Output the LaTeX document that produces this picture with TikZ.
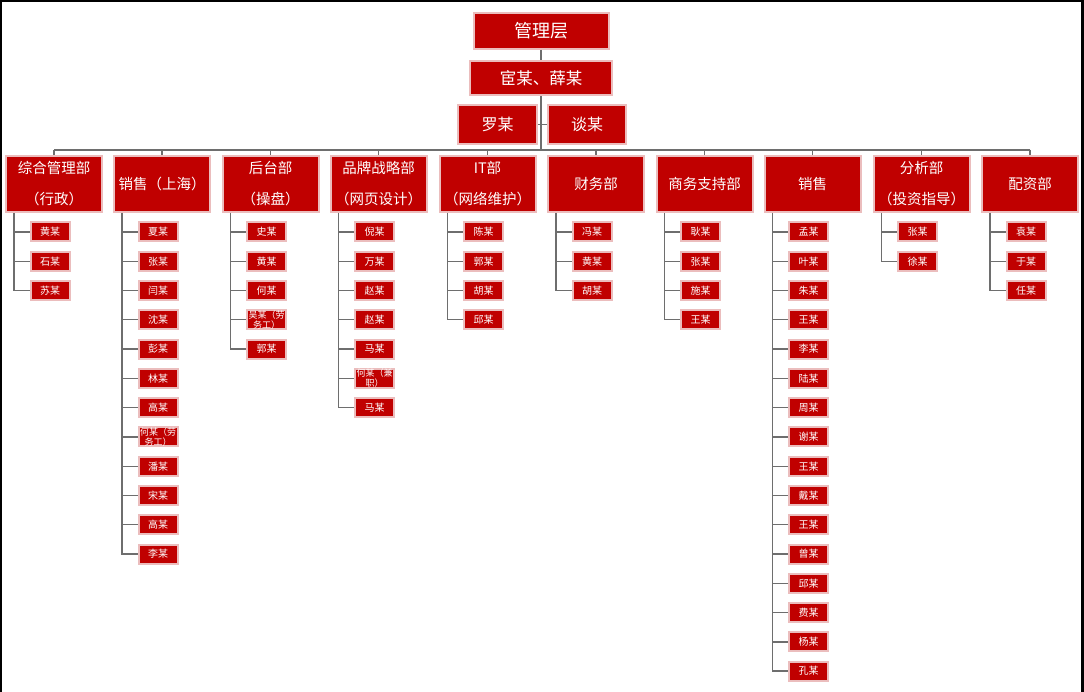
\documentclass[tikz,border=0pt]{standalone}
\usepackage{fontspec}
\setmainfont{Noto Sans CJK SC}
\usetikzlibrary{positioning}
\definecolor{boxred}{HTML}{C00000}
\definecolor{halo}{HTML}{EBBDBD}
\definecolor{wire}{HTML}{6E6E6E}

\begin{document}
\begin{tikzpicture}[x=1pt, y=-1pt,
  every node/.style={text=white, inner sep=0pt},
  head/.style={fill=boxred, draw=halo, line width=2pt, align=center},
  dept/.style={head, minimum width=96pt, minimum height=56pt,
               font=\fontsize{14.5}{31}\selectfont},
  staff/.style={head, minimum width=39pt, minimum height=19pt,
                font=\fontsize{10}{12}\selectfont},
  tight/.style={font=\fontsize{9}{10}\selectfont},
  link/.style={draw=wire, line width=1.4pt}
]
  % frame and page
  \fill[black] (0,0) rectangle (1084,692);
  \fill[white] (2,2) rectangle (1081,692);
  \useasboundingbox (0,0) rectangle (1084,692);

  % management
  \node[head, minimum width=135pt, minimum height=36pt, font=\fontsize{18}{20}\selectfont] (mg) at (541,31) {管理层};
  \node[head, minimum width=142pt, minimum height=34pt, font=\fontsize{16.5}{20}\selectfont] (vp) at (541,78) {宦某、薛某};
  \node[head, minimum width=79pt, minimum height=39pt, font=\fontsize{16}{20}\selectfont] (a1) at (497.5,124.5) {罗某};
  \node[head, minimum width=78pt, minimum height=39pt, font=\fontsize{16}{20}\selectfont] (a2) at (587,124.5) {谈某};
  \coordinate (hub) at (541,150);

  % departments
  \node[dept] (d1) at (54,184) {综合管理部\\（行政）};
  \node[dept] (d2) at (162,184) {销售（上海）};
  \node[dept] (d3) at (270.5,184) {后台部\\（操盘）};
  \node[dept] (d4) at (378.5,184) {品牌战略部\\（网页设计）};
  \node[dept] (d5) at (487.5,184) {IT部\\（网络维护）};
  \node[dept] (d6) at (596,184) {财务部};
  \node[dept] (d7) at (704.5,184) {商务支持部};
  \node[dept] (d8) at (812.5,184) {销售};
  \node[dept] (d9) at (921.5,184) {分析部\\（投资指导）};
  \node[dept] (d10) at (1030,184) {配资部};

  % 综合管理部
  \node[staff] (n1-1) at (50,232) {黄某};
  \node[staff] (n1-2) at (50,261.3) {石某};
  \node[staff] (n1-3) at (50,290.5) {苏某};

  % 销售（上海）
  \node[staff] (n2-1) at (158,232) {夏某};
  \node[staff] (n2-2) at (158,261.3) {张某};
  \node[staff] (n2-3) at (158,290.5) {闫某};
  \node[staff] (n2-4) at (158,319.8) {沈某};
  \node[staff] (n2-5) at (158,349.1) {彭某};
  \node[staff] (n2-6) at (158,378.4) {林某};
  \node[staff] (n2-7) at (158,407.6) {高某};
  \node[staff, tight] (n2-8) at (158,436.9) {何某（劳\\务工）};
  \node[staff] (n2-9) at (158,466.2) {潘某};
  \node[staff] (n2-10) at (158,495.4) {宋某};
  \node[staff] (n2-11) at (158,524.7) {高某};
  \node[staff] (n2-12) at (158,554) {李某};

  % 后台部
  \node[staff] (n3-1) at (266.5,232) {史某};
  \node[staff] (n3-2) at (266.5,261.3) {黄某};
  \node[staff] (n3-3) at (266.5,290.5) {何某};
  \node[staff, tight] (n3-4) at (266.5,319.8) {吴某（劳\\务工）};
  \node[staff] (n3-5) at (266.5,349.1) {郭某};

  % 品牌战略部
  \node[staff] (n4-1) at (374.5,232) {倪某};
  \node[staff] (n4-2) at (374.5,261.3) {万某};
  \node[staff] (n4-3) at (374.5,290.5) {赵某};
  \node[staff] (n4-4) at (374.5,319.8) {赵某};
  \node[staff] (n4-5) at (374.5,349.1) {马某};
  \node[staff, tight] (n4-6) at (374.5,378.4) {何某（兼\\职）};
  \node[staff] (n4-7) at (374.5,407.6) {马某};

  % IT部
  \node[staff] (n5-1) at (483.5,232) {陈某};
  \node[staff] (n5-2) at (483.5,261.3) {郭某};
  \node[staff] (n5-3) at (483.5,290.5) {胡某};
  \node[staff] (n5-4) at (483.5,319.8) {邱某};

  % 财务部
  \node[staff] (n6-1) at (592,232) {冯某};
  \node[staff] (n6-2) at (592,261.3) {黄某};
  \node[staff] (n6-3) at (592,290.5) {胡某};

  % 商务支持部
  \node[staff] (n7-1) at (700.5,232) {耿某};
  \node[staff] (n7-2) at (700.5,261.3) {张某};
  \node[staff] (n7-3) at (700.5,290.5) {施某};
  \node[staff] (n7-4) at (700.5,319.8) {王某};

  % 销售
  \node[staff] (n8-1) at (808.5,232) {孟某};
  \node[staff] (n8-2) at (808.5,261.3) {叶某};
  \node[staff] (n8-3) at (808.5,290.5) {朱某};
  \node[staff] (n8-4) at (808.5,319.8) {王某};
  \node[staff] (n8-5) at (808.5,349.1) {李某};
  \node[staff] (n8-6) at (808.5,378.4) {陆某};
  \node[staff] (n8-7) at (808.5,407.6) {周某};
  \node[staff] (n8-8) at (808.5,436.9) {谢某};
  \node[staff] (n8-9) at (808.5,466.2) {王某};
  \node[staff] (n8-10) at (808.5,495.4) {戴某};
  \node[staff] (n8-11) at (808.5,524.7) {王某};
  \node[staff] (n8-12) at (808.5,554) {曾某};
  \node[staff] (n8-13) at (808.5,583.2) {邱某};
  \node[staff] (n8-14) at (808.5,612.5) {费某};
  \node[staff] (n8-15) at (808.5,641.8) {杨某};
  \node[staff] (n8-16) at (808.5,671) {孔某};

  % 分析部
  \node[staff] (n9-1) at (917.5,232) {张某};
  \node[staff] (n9-2) at (917.5,261.3) {徐某};

  % 配资部
  \node[staff] (n10-1) at (1026,232) {袁某};
  \node[staff] (n10-2) at (1026,261.3) {于某};
  \node[staff] (n10-3) at (1026,290.5) {任某};

  % connectors at the top
  \draw[link] (mg.south) -- (vp.north);
  \draw[link] (vp.south) -- (hub);
  \draw[link] (a1.east) -- (a1.east -| hub);
  \draw[link] (a2.west) -- (a2.west -| hub);
  \draw[link] (d1.north |- hub) -- (d10.north |- hub);
  \draw[link] (hub -| d1.north) -- (d1.north) (hub -| d2.north) -- (d2.north)
              (hub -| d3.north) -- (d3.north) (hub -| d4.north) -- (d4.north)
              (hub -| d5.north) -- (d5.north) (hub -| d6.north) -- (d6.north)
              (hub -| d7.north) -- (d7.north) (hub -| d8.north) -- (d8.north)
              (hub -| d9.north) -- (d9.north) (hub -| d10.north) -- (d10.north);

  % connectors to staff
  \draw[link] ([xshift=9pt]d1.south west) |- (n1-1.west) ([xshift=9pt]d1.south west) |- (n1-2.west)
              ([xshift=9pt]d1.south west) |- (n1-3.west);
  \draw[link] ([xshift=9pt]d2.south west) |- (n2-1.west) ([xshift=9pt]d2.south west) |- (n2-2.west)
              ([xshift=9pt]d2.south west) |- (n2-3.west) ([xshift=9pt]d2.south west) |- (n2-4.west)
              ([xshift=9pt]d2.south west) |- (n2-5.west) ([xshift=9pt]d2.south west) |- (n2-6.west)
              ([xshift=9pt]d2.south west) |- (n2-7.west) ([xshift=9pt]d2.south west) |- (n2-8.west)
              ([xshift=9pt]d2.south west) |- (n2-9.west) ([xshift=9pt]d2.south west) |- (n2-10.west)
              ([xshift=9pt]d2.south west) |- (n2-11.west) ([xshift=9pt]d2.south west) |- (n2-12.west);
  \draw[link] ([xshift=9pt]d3.south west) |- (n3-1.west) ([xshift=9pt]d3.south west) |- (n3-2.west)
              ([xshift=9pt]d3.south west) |- (n3-3.west) ([xshift=9pt]d3.south west) |- (n3-4.west)
              ([xshift=9pt]d3.south west) |- (n3-5.west);
  \draw[link] ([xshift=9pt]d4.south west) |- (n4-1.west) ([xshift=9pt]d4.south west) |- (n4-2.west)
              ([xshift=9pt]d4.south west) |- (n4-3.west) ([xshift=9pt]d4.south west) |- (n4-4.west)
              ([xshift=9pt]d4.south west) |- (n4-5.west) ([xshift=9pt]d4.south west) |- (n4-6.west)
              ([xshift=9pt]d4.south west) |- (n4-7.west);
  \draw[link] ([xshift=9pt]d5.south west) |- (n5-1.west) ([xshift=9pt]d5.south west) |- (n5-2.west)
              ([xshift=9pt]d5.south west) |- (n5-3.west) ([xshift=9pt]d5.south west) |- (n5-4.west);
  \draw[link] ([xshift=9pt]d6.south west) |- (n6-1.west) ([xshift=9pt]d6.south west) |- (n6-2.west)
              ([xshift=9pt]d6.south west) |- (n6-3.west);
  \draw[link] ([xshift=9pt]d7.south west) |- (n7-1.west) ([xshift=9pt]d7.south west) |- (n7-2.west)
              ([xshift=9pt]d7.south west) |- (n7-3.west) ([xshift=9pt]d7.south west) |- (n7-4.west);
  \draw[link] ([xshift=9pt]d8.south west) |- (n8-1.west) ([xshift=9pt]d8.south west) |- (n8-2.west)
              ([xshift=9pt]d8.south west) |- (n8-3.west) ([xshift=9pt]d8.south west) |- (n8-4.west)
              ([xshift=9pt]d8.south west) |- (n8-5.west) ([xshift=9pt]d8.south west) |- (n8-6.west)
              ([xshift=9pt]d8.south west) |- (n8-7.west) ([xshift=9pt]d8.south west) |- (n8-8.west)
              ([xshift=9pt]d8.south west) |- (n8-9.west) ([xshift=9pt]d8.south west) |- (n8-10.west)
              ([xshift=9pt]d8.south west) |- (n8-11.west) ([xshift=9pt]d8.south west) |- (n8-12.west)
              ([xshift=9pt]d8.south west) |- (n8-13.west) ([xshift=9pt]d8.south west) |- (n8-14.west)
              ([xshift=9pt]d8.south west) |- (n8-15.west) ([xshift=9pt]d8.south west) |- (n8-16.west);
  \draw[link] ([xshift=9pt]d9.south west) |- (n9-1.west) ([xshift=9pt]d9.south west) |- (n9-2.west);
  \draw[link] ([xshift=9pt]d10.south west) |- (n10-1.west) ([xshift=9pt]d10.south west) |- (n10-2.west)
              ([xshift=9pt]d10.south west) |- (n10-3.west);

\end{tikzpicture}
\end{document}
